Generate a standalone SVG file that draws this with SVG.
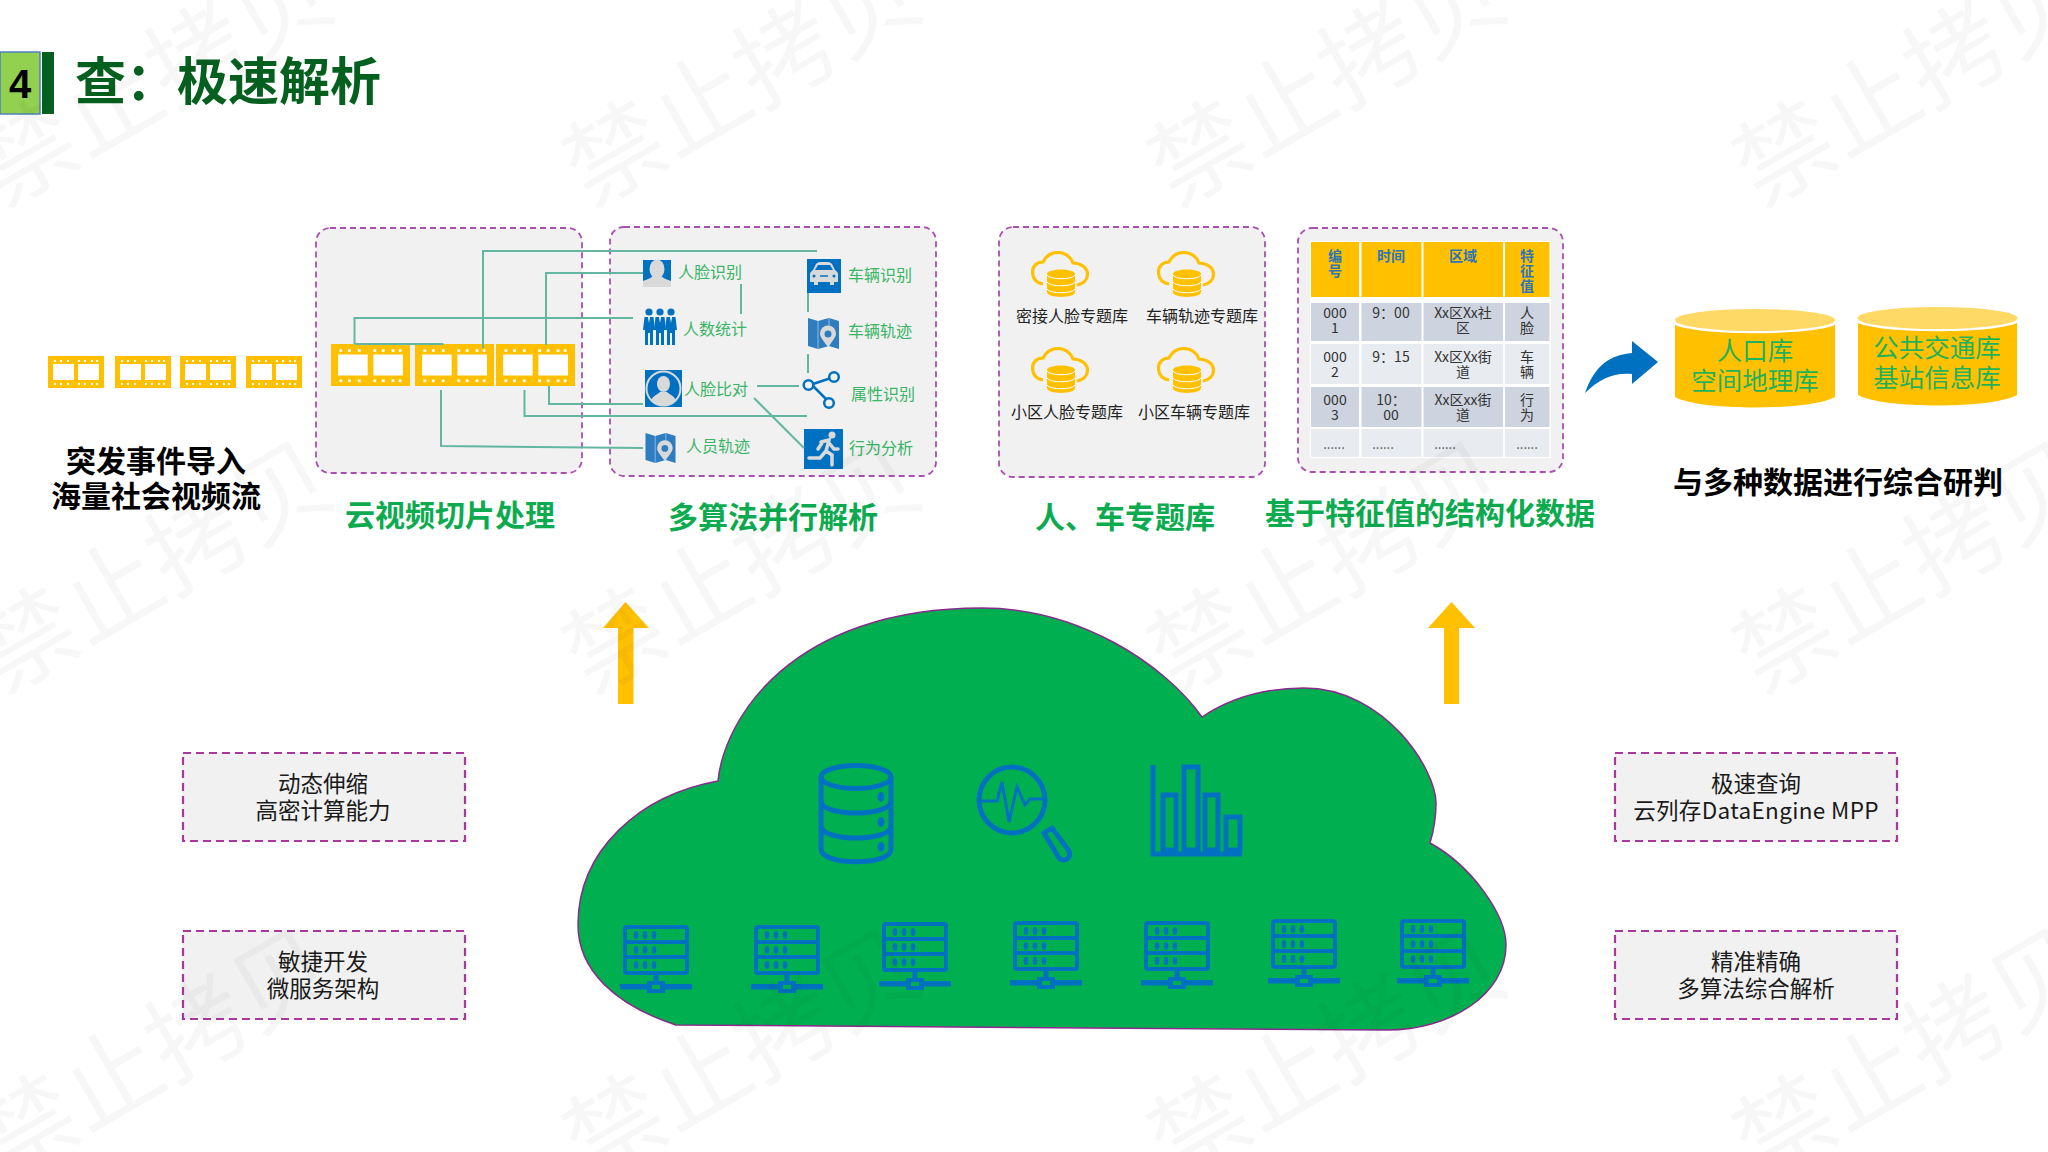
<svg xmlns="http://www.w3.org/2000/svg" xmlns:xlink="http://www.w3.org/1999/xlink" width="2048" height="1152" viewBox="0 0 2048 1152">
<style>
text{font-family:"Noto Sans CJK SC","Noto Sans",sans-serif}
.panel{fill:#f1f1f1;stroke:#a94fb0;stroke-width:1.8;stroke-dasharray:6 4}
.box{fill:#f1f1f1;stroke:#a9379f;stroke-width:2.2;stroke-dasharray:8 5}
.title{font-size:30px;font-weight:700;fill:#0cab50;text-anchor:middle}
.black{font-size:30px;font-weight:700;fill:#000;text-anchor:middle}
.alg{font-size:16px;fill:#38b565;text-anchor:middle}
.db{font-size:16px;fill:#222;text-anchor:middle}
.bx{font-size:22.5px;fill:#1a1a1a;text-anchor:middle}
.th{font-size:14px;font-weight:700;fill:#2e75b6;text-anchor:middle}
.td{font-size:14px;fill:#333;text-anchor:middle}
.tdots{font-size:13px;fill:#555;text-anchor:middle}
.cyl{font-size:25.5px;fill:#1fb25a;text-anchor:middle}
.wire{fill:none;stroke:#63b7a0;stroke-width:2}
.mark{font-size:98px;font-weight:400;fill:#000;fill-opacity:.032}
.ic{fill:none;stroke:#0070c0}
.hdr{fill:#ffc000}.dk{fill:#cdd4e0}.lt{fill:#e8ebf0}
</style>
<defs>
<symbol id="film" viewBox="0 0 56 32" preserveAspectRatio="none">
<rect width="56" height="32" fill="#ffc000"/>
<rect x="5" y="8" width="21" height="16" fill="#fff"/><rect x="30" y="8" width="21" height="16" fill="#fff"/>
<g fill="#fff">
<rect x="6" y="4" width="2" height="2"/><rect x="12" y="4" width="2" height="2"/><rect x="19" y="4" width="2" height="2"/><rect x="30" y="4" width="2" height="2"/><rect x="36" y="4" width="2" height="2"/><rect x="43" y="4" width="2" height="2"/><rect x="48" y="4" width="2" height="2"/>
<rect x="6" y="27" width="2" height="2"/><rect x="12" y="27" width="2" height="2"/><rect x="19" y="27" width="2" height="2"/><rect x="30" y="27" width="2" height="2"/><rect x="36" y="27" width="2" height="2"/><rect x="43" y="27" width="2" height="2"/><rect x="48" y="27" width="2" height="2"/>
</g>
</symbol>
<symbol id="clouddb" viewBox="0 0 58 46">
<path d="M12,33C5,32 1.5,27 1.5,21C1.5,15 6,11 12,11C15,5 20,1.5 27,1.5C34,1.5 40,6 42,12C50,12 56.5,17 56.5,23C56.5,29 52,33 46,34" fill="none" stroke="#ffc000" stroke-width="3.2"/>
<path d="M16,23C16,17 44,17 44,23V41C44,47.5 16,47.5 16,41Z" fill="#ffc000"/>
<path d="M16,24C18,29 42,29 44,24M16,31C18,36 42,36 44,31M16,38C18,43 42,43 44,38" fill="none" stroke="#fff" stroke-width="1"/>
</symbol>
<symbol id="map" viewBox="0 0 31 32">
<path d="M0,1L10,4L21,1L31,4V32L21,29L10,32L0,29Z" fill="#2e7dc0"/>
<path d="M10,4V32M21,1V29" stroke="#8fb9dc" stroke-width="1" fill="none"/>
<path d="M20,30C13,21 12,19 12,16.500A8,8 0 0 1 28,16.500C28,19 27,21 20,30Z" fill="#d9d9d9"/>
<circle cx="20" cy="17" r="3.500" fill="#2e7dc0"/>
</symbol>
<symbol id="man" viewBox="0 0 12 37">
<circle cx="6" cy="4" r="3.600" fill="#0070c0"/>
<path d="M1.500,9H10.500L12,22L10,22V37H7V25H5V37H2V22L0,22Z" fill="#0070c0"/>
<path d="M5,9L6,15L7,9Z" fill="#fff"/>
</symbol>
<g id="server">
<rect x="-31" y="2" width="62" height="15" rx="2" class="ic" stroke-width="4"/>
<rect x="-31" y="17" width="62" height="15" rx="2" class="ic" stroke-width="4"/>
<rect x="-31" y="32" width="62" height="16" rx="2" class="ic" stroke-width="4"/>
<g fill="#0070c0">
<ellipse cx="-20" cy="10" rx="2.300" ry="4"/><ellipse cx="-11" cy="10" rx="2.300" ry="4"/><ellipse cx="-2" cy="10" rx="2.300" ry="4"/>
<ellipse cx="-20" cy="25" rx="2.300" ry="4"/><ellipse cx="-11" cy="25" rx="2.300" ry="4"/><ellipse cx="-2" cy="25" rx="2.300" ry="4"/>
<ellipse cx="-20" cy="40" rx="2.300" ry="4"/><ellipse cx="-11" cy="40" rx="2.300" ry="4"/><ellipse cx="-2" cy="40" rx="2.300" ry="4"/>
<rect x="-2.500" y="50" width="5" height="9"/>
<rect x="-36" y="59" width="72" height="5.500"/>
<rect x="-9" y="56" width="18" height="12"/>
</g>
<rect x="-4" y="60" width="8" height="4" fill="#00b050"/>
</g>
</defs>

<rect width="2048" height="1152" fill="#fff"/>

<g id="header">
<rect x="42" y="52" width="12" height="62" fill="#055f1e"/>
<rect x="0" y="52" width="40" height="62" fill="#92d050" stroke="#4f81bd" stroke-width="1.500"/>
<text x="20" y="98" font-size="40" font-weight="700" fill="#000" text-anchor="middle" style="font-family:'Liberation Sans',sans-serif">4</text>
<text x="75" y="100" font-size="51" font-weight="700" fill="#055f1e">查：极速解析</text>
</g>

<g id="stream">
<use href="#film" x="48" y="356" width="56" height="32"/>
<use href="#film" x="115" y="356" width="56" height="32"/>
<use href="#film" x="180" y="356" width="56" height="32"/>
<use href="#film" x="246" y="356" width="56" height="32"/>
<text class="black" x="156" y="472">突发事件导入</text>
<text class="black" x="156" y="507">海量社会视频流</text>
</g>

<g id="panel-slice">
<rect class="panel" x="316" y="228" width="266" height="245" rx="14"/>
<use href="#film" x="331" y="344" width="79" height="42"/>
<use href="#film" x="415" y="344" width="79" height="42"/>
<use href="#film" x="496" y="344" width="79" height="42"/>
<text class="title" x="450" y="526">云视频切片处理</text>
</g>

<g id="panel-algo">
<rect class="panel" x="610" y="227" width="326" height="249" rx="14"/>
<text class="title" x="773" y="528">多算法并行解析</text>
<g id="face-id">
<rect x="643" y="260" width="28" height="27" fill="#0070c0"/>
<ellipse cx="657" cy="269" rx="7.500" ry="9.500" fill="#d9d9d9"/>
<path d="M643,287V281C648,279 652,278 653,275H661C662,278 666,279 671,281V287Z" fill="#d9d9d9"/>
<text class="alg" x="710" y="278">人脸识别</text>
</g>
<g id="people-count">
<use href="#man" x="643" y="308" width="12" height="37"/>
<use href="#man" x="654" y="308" width="12" height="37"/>
<use href="#man" x="665" y="308" width="12" height="37"/>
<text class="alg" x="715" y="335">人数统计</text>
</g>
<g id="face-compare">
<rect x="645" y="370" width="37" height="37" fill="#0070c0"/>
<circle cx="663.500" cy="388.500" r="17" fill="none" stroke="#d9d9d9" stroke-width="2"/>
<ellipse cx="663.500" cy="384" rx="6.500" ry="8" fill="#d9d9d9"/>
<path d="M651,401C652,396 657,395 660,392H667C670,395 675,396 676,401C669,407 658,407 651,401Z" fill="#d9d9d9"/>
<text class="alg" x="716" y="395">人脸比对</text>
</g>
<g id="person-track">
<use href="#map" x="645" y="432" width="31" height="31"/>
<text class="alg" x="718" y="452">人员轨迹</text>
</g>
<g id="car-id">
<rect x="807" y="259" width="34" height="34" fill="#0070c0"/>
<path d="M810,282V274C810,272 812,271 813,270L816,264C817,263 818,262 820,262H828C830,262 831,263 832,264L835,270C836,271 838,272 838,274V282H834V285H830V282H818V285H814V282Z" fill="#d9d9d9"/>
<path d="M815,270L818,265H830L833,270Z" fill="#0070c0"/>
<path d="M820,276H828" stroke="#0070c0" stroke-width="1.500"/>
<circle cx="814" cy="276" r="1.500" fill="#0070c0"/><circle cx="834" cy="276" r="1.500" fill="#0070c0"/>
<text class="alg" x="880" y="281">车辆识别</text>
</g>
<g id="car-track">
<use href="#map" x="808" y="317" width="31" height="32"/>
<text class="alg" x="880" y="337">车辆轨迹</text>
</g>
<g id="attr-id">
<g class="ic" stroke-width="2.500">
<path d="M813,384L834,377M813,386L829,402"/>
<circle cx="808.500" cy="385" r="4.800" fill="#f1f1f1"/><circle cx="834" cy="377" r="4.800" fill="#f1f1f1"/><circle cx="829" cy="403" r="4.800" fill="#f1f1f1"/>
</g>
<text class="alg" x="883" y="400">属性识别</text>
</g>
<g id="behavior">
<rect x="804" y="429" width="39" height="40" fill="#0070c0"/>
<circle cx="832" cy="435" r="3.500" fill="#d9d9d9"/>
<path d="M821,442L829,440L826,451L832,455L832,465M826,451L820,458L809,458M829,443L834,449L838,449M822,443L818,449" fill="none" stroke="#d9d9d9" stroke-width="3.500" stroke-linecap="round"/>
<text class="alg" x="881" y="454">行为分析</text>
</g>
</g>

<g id="connectors">
<path class="wire" d="M483,348V251H817"/>
<path class="wire" d="M546,345V273H643"/>
<path class="wire" d="M354.500,344V318H633M354.500,344H443.500"/>
<path class="wire" d="M549,386V404H643"/>
<path class="wire" d="M524.500,390V416H807"/>
<path class="wire" d="M441,390V446L643,448"/>
<path class="wire" d="M741,284V314"/>
<path class="wire" d="M808,293V312"/>
<path class="wire" d="M808,354V373"/>
<path class="wire" d="M757,386H799"/>
<path class="wire" d="M754,398L804,448"/>
</g>

<g id="panel-db">
<rect class="panel" x="999" y="227" width="266" height="250" rx="14"/>
<use href="#clouddb" x="1031" y="251" width="58" height="46"/>
<use href="#clouddb" x="1157" y="251" width="58" height="46"/>
<use href="#clouddb" x="1031" y="347" width="58" height="46"/>
<use href="#clouddb" x="1157" y="347" width="58" height="46"/>
<text class="db" x="1072" y="322">密接人脸专题库</text>
<text class="db" x="1202" y="322">车辆轨迹专题库</text>
<text class="db" x="1067" y="418">小区人脸专题库</text>
<text class="db" x="1194" y="418">小区车辆专题库</text>
<text class="title" x="1125" y="528">人、车专题库</text>
</g>

<g id="panel-table">
<rect class="panel" x="1298" y="228" width="265" height="244" rx="14"/>
<rect x="1310" y="241" width="241" height="217" fill="#fff"/>
<rect class="hdr" x="1311" y="242" width="48" height="55"/><rect class="hdr" x="1361.500" y="242" width="60" height="55"/><rect class="hdr" x="1423.500" y="242" width="79.500" height="55"/><rect class="hdr" x="1505" y="242" width="44.500" height="55"/>
<rect class="dk" x="1311" y="303" width="48" height="38"/><rect class="dk" x="1361.500" y="303" width="60" height="38"/><rect class="dk" x="1423.500" y="303" width="79.500" height="38"/><rect class="dk" x="1505" y="303" width="44.500" height="38"/>
<rect class="lt" x="1311" y="344" width="48" height="40"/><rect class="lt" x="1361.500" y="344" width="60" height="40"/><rect class="lt" x="1423.500" y="344" width="79.500" height="40"/><rect class="lt" x="1505" y="344" width="44.500" height="40"/>
<rect class="dk" x="1311" y="387" width="48" height="40"/><rect class="dk" x="1361.500" y="387" width="60" height="40"/><rect class="dk" x="1423.500" y="387" width="79.500" height="40"/><rect class="dk" x="1505" y="387" width="44.500" height="40"/>
<rect class="lt" x="1311" y="429" width="48" height="28"/><rect class="lt" x="1361.500" y="429" width="60" height="28"/><rect class="lt" x="1423.500" y="429" width="79.500" height="28"/><rect class="lt" x="1505" y="429" width="44.500" height="28"/>
<text class="th" x="1335" y="261">编</text><text class="th" x="1335" y="276">号</text>
<text class="th" x="1391" y="261">时间</text><text class="th" x="1463" y="261">区域</text>
<text class="th" x="1527" y="261">特</text><text class="th" x="1527" y="276">征</text><text class="th" x="1527" y="291">值</text>
<text class="td" x="1335" y="318">000</text><text class="td" x="1335" y="333">1</text>
<text class="td" x="1391" y="318">9：00</text>
<text class="td" x="1463" y="318">Xx区Xx社</text><text class="td" x="1463" y="333">区</text>
<text class="td" x="1527" y="318">人</text><text class="td" x="1527" y="333">脸</text>
<text class="td" x="1335" y="362">000</text><text class="td" x="1335" y="377">2</text>
<text class="td" x="1391" y="362">9：15</text>
<text class="td" x="1463" y="362">Xx区Xx街</text><text class="td" x="1463" y="377">道</text>
<text class="td" x="1527" y="362">车</text><text class="td" x="1527" y="377">辆</text>
<text class="td" x="1335" y="405">000</text><text class="td" x="1335" y="420">3</text>
<text class="td" x="1391" y="405">10：</text><text class="td" x="1391" y="420">00</text>
<text class="td" x="1463" y="405">Xx区xx街</text><text class="td" x="1463" y="420">道</text>
<text class="td" x="1527" y="405">行</text><text class="td" x="1527" y="420">为</text>
<text class="tdots" x="1334" y="449">......</text><text class="tdots" x="1383" y="449">......</text><text class="tdots" x="1445" y="449">......</text><text class="tdots" x="1527" y="449">......</text>
<text class="title" x="1430" y="524">基于特征值的结构化数据</text>
</g>

<g id="blue-arrow">
<path d="M1585,393C1595,365 1610,355 1632,353V341L1658,362L1632,384V374C1615,372 1600,378 1585,393Z" fill="#0070c0"/>
</g>

<g id="cyl-population">
<path d="M1675,325C1700,336 1810,336 1835,325V397C1810,411 1700,411 1675,397Z" fill="#ffc000"/>
<ellipse cx="1755" cy="320" rx="80" ry="11" fill="#ffd966"/>
<text class="cyl" x="1755" y="360">人口库</text>
<text class="cyl" x="1755" y="390">空间地理库</text>
</g>
<g id="cyl-transport">
<path d="M1858,323C1883,334 1992,334 2017,323V395C1992,409 1883,409 1858,395Z" fill="#ffc000"/>
<ellipse cx="1937.500" cy="318" rx="80" ry="11" fill="#ffd966"/>
<text class="cyl" x="1937" y="357">公共交通库</text>
<text class="cyl" x="1937" y="387">基站信息库</text>
</g>
<text class="black" x="1838" y="493">与多种数据进行综合研判</text>

<g id="cloud">
<path d="M718,781C724,720 790,608 982,608C1080,608 1165,665 1202,717C1235,695 1270,688 1304,688C1385,688 1436,770 1436,803C1436,815 1434,830 1430,843C1472,866 1506,915 1506,945C1506,995 1450,1030 1387,1030L676,1025C615,1005 578,970 578,925C578,850 640,795 718,781Z" fill="#00b050" stroke="#8a2a8a" stroke-width="1.500"/>
<g id="icon-db" class="ic" stroke-width="5">
<ellipse cx="856" cy="777" rx="35" ry="11.500"/>
<path d="M821,777V849C821,866 891,866 891,849V777"/>
<path d="M821,801C821,817 891,817 891,801M821,826C821,842 891,842 891,826"/>
<g fill="#0070c0" stroke="none"><ellipse cx="881" cy="797" rx="3.500" ry="5"/><ellipse cx="881" cy="822" rx="3.500" ry="5"/><ellipse cx="881" cy="847" rx="3.500" ry="5"/></g>
</g>
<g id="icon-search" class="ic" stroke-width="5">
<circle cx="1012" cy="800" r="33"/>
<path d="M980,801H997L1002,782L1009,822L1017,787L1025,805L1030,799H1044" stroke-width="3"/>
<path d="M1044,833L1052,828L1069,851C1072,858 1064,863 1059,858Z"/>
</g>
<g id="icon-chart" fill="none" stroke="#0070c0">
<path d="M1153,765V854H1242" stroke-width="5"/>
<g stroke-width="5"><rect x="1163" y="795" width="13" height="55"/><rect x="1184" y="767" width="14" height="83"/><rect x="1205" y="795" width="13" height="55"/><rect x="1226" y="817" width="14" height="33"/></g>
</g>
<use href="#server" x="656" y="925"/>
<use href="#server" x="787" y="925"/>
<use href="#server" x="915" y="922"/>
<use href="#server" x="1046" y="921"/>
<use href="#server" x="1177" y="921"/>
<use href="#server" x="1304" y="919"/>
<use href="#server" x="1433" y="919"/>
</g>

<g id="up-arrow-left"><path d="M625.500,602L649,628H633.500V704H618V628H603Z" fill="#ffc000"/></g>
<g id="up-arrow-right"><path d="M1451.500,602L1475,628H1459V704H1444V628H1428Z" fill="#ffc000"/></g>

<g id="box-scale"><rect class="box" x="183" y="753" width="282" height="88"/><text class="bx" x="323" y="792">动态伸缩</text><text class="bx" x="323" y="819">高密计算能力</text></g>
<g id="box-agile"><rect class="box" x="183" y="931" width="282" height="88"/><text class="bx" x="323" y="970">敏捷开发</text><text class="bx" x="323" y="997">微服务架构</text></g>
<g id="box-query"><rect class="box" x="1615" y="753" width="282" height="88"/><text class="bx" x="1756" y="792">极速查询</text><text class="bx" x="1756" y="819" letter-spacing=".35">云列存DataEngine MPP</text></g>
<g id="box-precise"><rect class="box" x="1615" y="931" width="282" height="88"/><text class="bx" x="1756" y="970">精准精确</text><text class="bx" x="1756" y="997">多算法综合解析</text></g>

<g id="watermark">
<text class="mark" transform="translate(2,208) rotate(-30)">禁止拷贝</text>
<text class="mark" transform="translate(590,208) rotate(-30)">禁止拷贝</text>
<text class="mark" transform="translate(1175,208) rotate(-30)">禁止拷贝</text>
<text class="mark" transform="translate(1760,208) rotate(-30)">禁止拷贝</text>
<text class="mark" transform="translate(2,695) rotate(-30)">禁止拷贝</text>
<text class="mark" transform="translate(590,695) rotate(-30)">禁止拷贝</text>
<text class="mark" transform="translate(1175,695) rotate(-30)">禁止拷贝</text>
<text class="mark" transform="translate(1760,695) rotate(-30)">禁止拷贝</text>
<text class="mark" transform="translate(2,1182) rotate(-30)">禁止拷贝</text>
<text class="mark" transform="translate(590,1182) rotate(-30)">禁止拷贝</text>
<text class="mark" transform="translate(1175,1182) rotate(-30)">禁止拷贝</text>
<text class="mark" transform="translate(1760,1182) rotate(-30)">禁止拷贝</text>
</g>
</svg>
